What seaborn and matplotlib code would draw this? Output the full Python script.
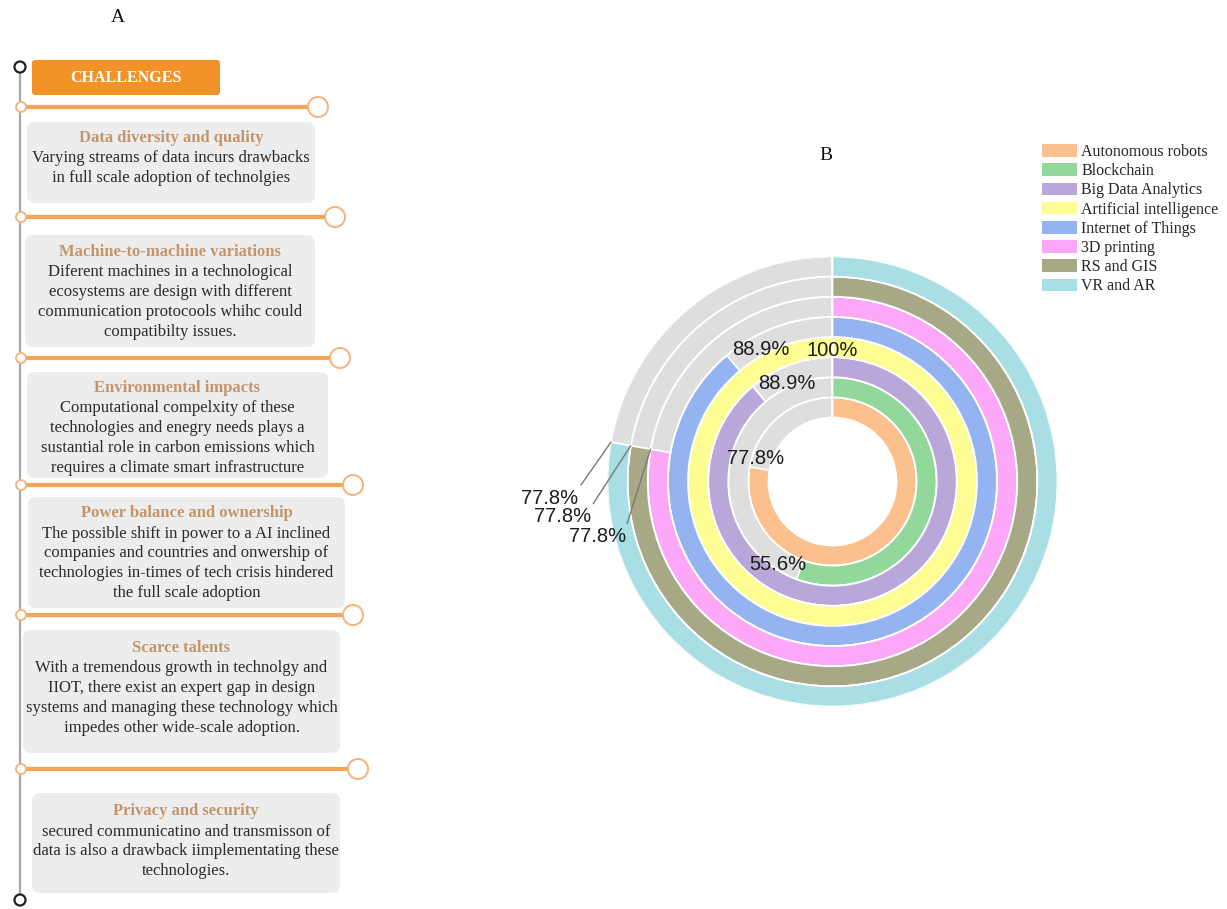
import numpy as np
import matplotlib
matplotlib.use("Agg")
import matplotlib.pyplot as plt
from matplotlib.patches import FancyBboxPatch, Circle, Patch
import seaborn as sns

# ---------------- data ----------------
technologies = ["Autonomous robots", "Blockchain", "Big Data Analytics",
                "Artificial intelligence", "Internet of Things", "3D printing",
                "RS and GIS", "VR and AR"]
adoption_pct = [77.8, 55.6, 88.9, 100.0, 88.9, 77.8, 77.8, 77.8]
ring_colors = ["#fcc08f", "#92d89b", "#b9a7d9", "#fdfd93",
               "#93b4f0", "#fca7f7", "#a7a886", "#a9dfe4"]

challenge_titles = ["Data diversity and quality",
                    "Machine-to-machine variations",
                    "Environmental impacts",
                    "Power balance and ownership",
                    "Scarce talents",
                    "Privacy and security"]
challenge_texts = [
    ["Varying streams of data incurs drawbacks",
     "in full scale adoption of technolgies"],
    ["Diferent machines in a technological",
     "ecosystems are design with different",
     "communication protocools whihc could",
     "compatibilty issues."],
    ["Computational compelxity of these",
     "technologies and enegry needs plays a",
     "sustantial role in carbon emissions which",
     "requires a climate smart infrastructure"],
    ["The possible shift in power to a AI inclined",
     "companies and countries and onwership of",
     "technologies in-times of tech crisis hindered",
     "the full scale adoption"],
    ["With a tremendous growth in technolgy and",
     "IIOT, there exist an expert gap in design",
     "systems and managing these technology which",
     "impedes other wide-scale adoption."],
    ["secured communicatino and transmisson of",
     "data is also a drawback iimplementating these",
     "technologies."],
]

# ---------------- style ----------------
sns.set_theme(style="white")
plt.rcParams["font.family"] = ["Liberation Serif", "DejaVu Serif"]
SERIF = "Liberation Serif"
SANS = "Liberation Sans"

W, H = 1227, 909
fig = plt.figure(figsize=(W / 100, H / 100), dpi=100)
fig.patch.set_facecolor("white")

# ---------------- panel A (pixel-coordinate canvas) ----------------
axA = fig.add_axes([0, 0, 1, 1], zorder=0)
axA.set_xlim(0, W)
axA.set_ylim(H, 0)
axA.axis("off")

axA.text(118, 18, "A", fontsize=14, family=SERIF, ha="center", va="center", color="#111")
axA.text(826, 155, "B", fontsize=14, family=SERIF, ha="center", va="center", color="#111")

# timeline spine
axA.plot([20, 20], [68, 898], color="#a8a8a8", lw=1.6, solid_capstyle="butt", zorder=1)
for cy in (67, 900):
    axA.add_patch(Circle((20, cy), 5.5, fc="white", ec="#222", lw=1.6, zorder=3))

# header box
axA.add_patch(FancyBboxPatch((32, 60), 188, 35, boxstyle="round,pad=0,rounding_size=3",
                             fc="#f39327", ec="none", zorder=2))
axA.text(126, 78, "CHALLENGES", fontsize=11.5, family=SERIF, weight="bold",
         color="white", ha="center", va="center", zorder=3)

connector_y = [107, 217, 358, 485, 615, 769]
connector_x = [318, 335, 340, 353, 353, 358]
for y, xe in zip(connector_y, connector_x):
    axA.plot([21, xe - 10], [y, y], color="#f5a55a", lw=3.0, solid_capstyle="butt", zorder=2)
    axA.add_patch(Circle((21, y), 5, fc="white", ec="#f5b27a", lw=1.3, zorder=3))
    axA.add_patch(Circle((xe, y), 10, fc="white", ec="#f5b27a", lw=1.4, zorder=3))

boxes = [(27, 122, 315, 203), (25, 235, 315, 347), (27, 372, 328, 478),
         (28, 497, 345, 608), (23, 630, 340, 753), (32, 793, 340, 893)]
title_y = [138, 252, 388, 513, 648, 811]
for (x0, y0, x1, y1), ty, title, lines in zip(boxes, title_y, challenge_titles, challenge_texts):
    axA.add_patch(FancyBboxPatch((x0, y0), x1 - x0, y1 - y0,
                                 boxstyle="round,pad=0,rounding_size=8",
                                 fc="#ededed", ec="none", zorder=1.5))
    cx = (x0 + x1) / 2
    axA.text(cx, ty, title, fontsize=12, family=SERIF, weight="bold", color="#c4956a",
             ha="center", va="center", zorder=3)
    for k, ln in enumerate(lines):
        axA.text(cx, ty + 20.5 + 19.7 * k, ln, fontsize=12, family=SERIF, color="#2b2b2b",
                 ha="center", va="center", zorder=3)

# ---------------- panel B: radial bar chart ----------------
CX, CY, R_OUT, R_IN = 832.5, 481.5, 225.0, 64.0
n = len(technologies)
pitch = (R_OUT - R_IN) / n
HOLE = R_IN / pitch

ax = fig.add_axes([(CX - R_OUT) / W, 1 - (CY + R_OUT) / H, 2 * R_OUT / W, 2 * R_OUT / H],
                  projection="polar", zorder=2)
ax.set_theta_zero_location("N")
ax.set_theta_direction(-1)
ax.set_ylim(0, HOLE + n)
ax.patch.set_alpha(0)

for i, (name, v, c) in enumerate(zip(technologies, adoption_pct, ring_colors)):
    ax.bar(0, 1, width=2 * np.pi, bottom=HOLE + i, align="edge",
           color="#dedede", edgecolor="white", linewidth=1.3)
    ax.bar(0, 1, width=2 * np.pi * v / 100, bottom=HOLE + i, align="edge",
           color=c, edgecolor="white", linewidth=1.3, label=name)

ax.grid(False)
ax.set_xticks([])
ax.set_yticks([])
ax.spines["polar"].set_visible(False)

LFS = 14.5
# value labels (inner rings): (angle deg clockwise from top, radius px)
inner_label_pos = [(287, 80), (213.4, 100), (335.2, 108.5), (0, 131.5), (331.5, 149.7)]
for i, (th, rp) in enumerate(inner_label_pos):
    v = adoption_pct[i]
    txt = f"{v:g}%"
    ax.text(np.deg2rad(th), rp / pitch, txt, fontsize=LFS, family=SANS, color="#1c1c1c",
            ha="center", va="center", zorder=5)

# outer rings: labels with leader lines (text centre in pixels from top-left)
outer_label_pos = {7: (550, 498), 6: (562.5, 516.5), 5: (597.5, 536.5)}
for i, (tx, ty) in outer_label_pos.items():
    v = adoption_pct[i]
    ax.annotate(f"{v:g}%", xy=(2 * np.pi * v / 100, HOLE + i + 1),
                xytext=(tx, H - ty), textcoords="figure pixels",
                fontsize=LFS, family=SANS, color="#1c1c1c", ha="center", va="center",
                arrowprops=dict(arrowstyle="-", color="#7a7a7a", lw=1.0,
                                shrinkA=0, shrinkB=0, relpos=(1.0, 1.0)),
                annotation_clip=False, zorder=5)

handles = [Patch(facecolor=c, edgecolor="none") for c in ring_colors]
fs = 11.5
fig.legend(handles, technologies, loc="upper left",
           bbox_to_anchor=(1042 / W, 1 - 144 / H), frameon=False,
           prop={"family": SERIF, "size": fs}, borderpad=0, borderaxespad=0,
           handlelength=2.2, handleheight=0.83, handletextpad=0.25,
           labelspacing=0.2)

fig.savefig("out.png", dpi=100)
